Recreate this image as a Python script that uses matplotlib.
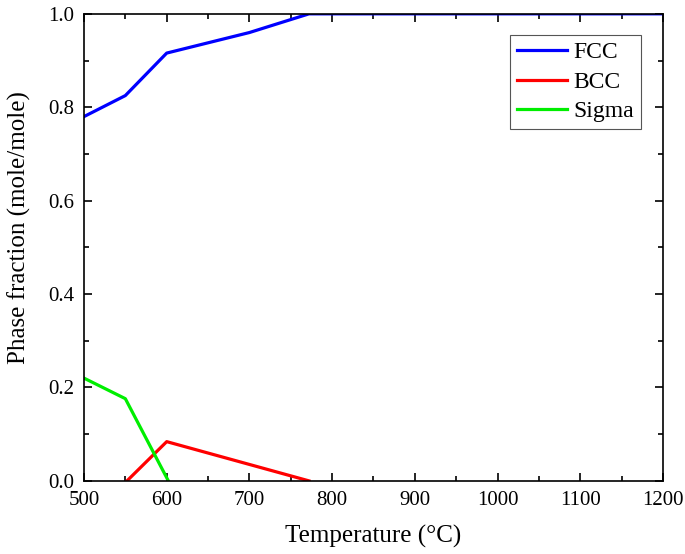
import matplotlib
matplotlib.use("Agg")
import matplotlib.pyplot as plt
from matplotlib.ticker import MultipleLocator

plt.rcParams['font.family'] = ['Liberation Serif', 'DejaVu Serif']

# phase fractions vs temperature
fcc_t = [500, 550, 600, 700, 772, 1200]
fcc_v = [0.780, 0.825, 0.916, 0.960, 1.0, 1.0]
bcc_t = [552, 600, 772]
bcc_v = [0.0, 0.084, 0.0]
sigma_t = [500, 550, 602]
sigma_v = [0.220, 0.176, 0.0]

fig = plt.figure(figsize=(6.85, 5.54), dpi=100)
ax = fig.add_axes([0.1226, 0.132, 0.8453, 0.843])

ax.plot(fcc_t, fcc_v, color="#0000ff", lw=2.3, label="FCC")
ax.plot(bcc_t, bcc_v, color="#ff0000", lw=2.3, label="BCC")
ax.plot(sigma_t, sigma_v, color="#00ee00", lw=2.3, label="Sigma")

ax.set_xlim(500, 1200)
ax.set_ylim(0, 1.0)
ax.xaxis.set_major_locator(MultipleLocator(100))
ax.xaxis.set_minor_locator(MultipleLocator(50))
ax.yaxis.set_major_locator(MultipleLocator(0.2))
ax.yaxis.set_minor_locator(MultipleLocator(0.1))
ax.yaxis.set_major_formatter(plt.FuncFormatter(lambda v, p: f"{v:.1f}"))
ax.tick_params(which="both", direction="in", top=True, right=True, labelsize=15, width=1.2)
ax.tick_params(which="major", length=6, pad=7)
ax.tick_params(which="minor", length=3.5)
for s in ax.spines.values():
    s.set_linewidth(1.2)

ax.set_xlabel("Temperature (°C)", fontsize=18, labelpad=11)
ax.set_ylabel("Phase fraction (mole/mole)", fontsize=18, labelpad=12, y=0.542)

leg = ax.legend(loc="upper right", bbox_to_anchor=(0.962, 0.955), borderaxespad=0,
                fontsize=17, fancybox=False, edgecolor="#555555", framealpha=1,
                handlelength=2.15, handletextpad=0.25, borderpad=0.3, labelspacing=0.33)
leg.get_frame().set_linewidth(0.8)

fig.savefig("out.png", dpi=100)
